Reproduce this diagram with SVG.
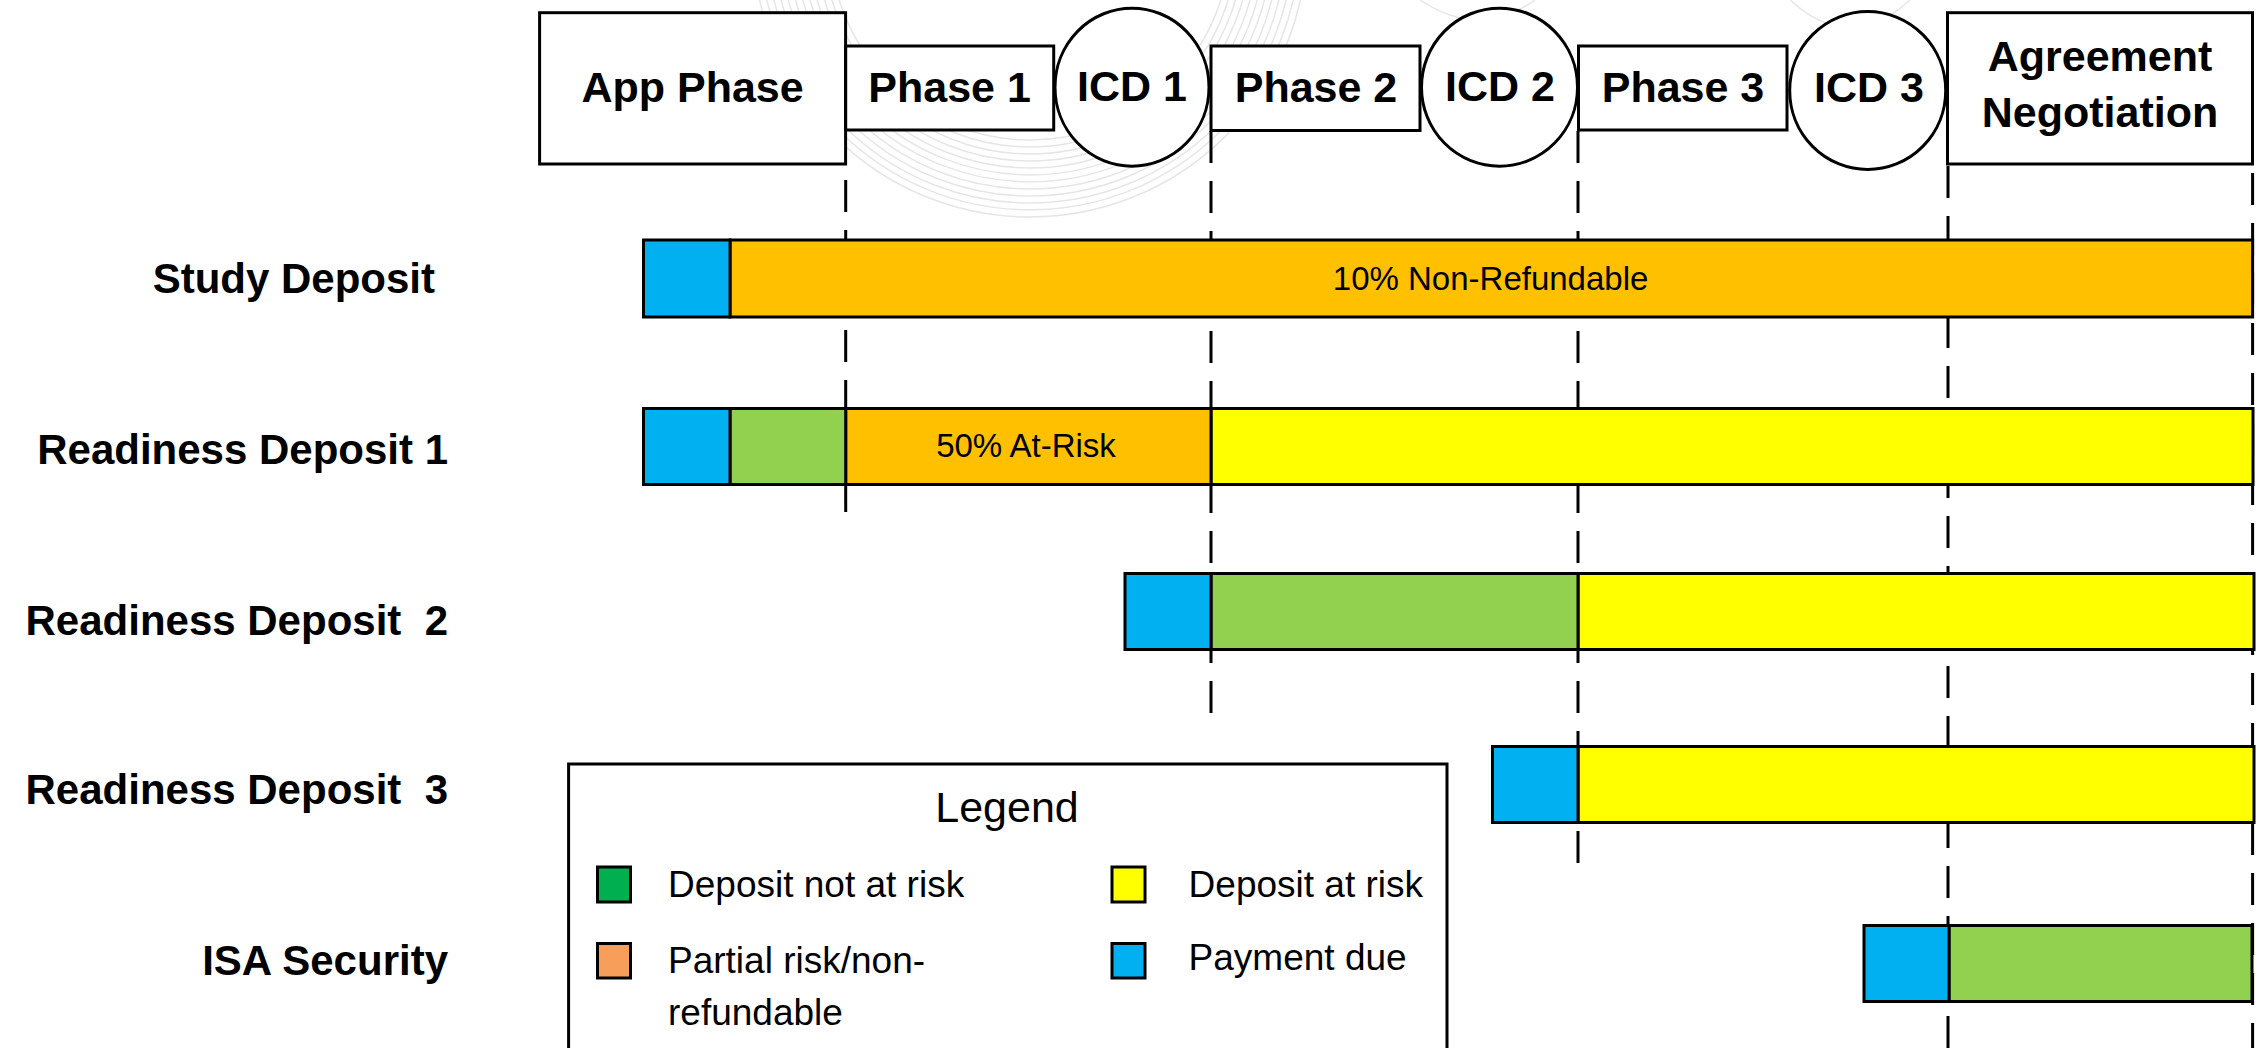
<svg xmlns="http://www.w3.org/2000/svg" width="2267" height="1048" viewBox="0 0 2267 1048">
<style>
.box{fill:#fff;stroke:#000;stroke-width:3}
.hdr{font-family:"Liberation Sans",Arial,sans-serif;font-weight:bold;font-size:43px;text-anchor:middle;fill:#000}
.lbl{font-family:"Liberation Sans",Arial,sans-serif;font-weight:bold;font-size:42px;text-anchor:end;fill:#000}
.bt{font-family:"Liberation Sans",Arial,sans-serif;font-size:33px;text-anchor:middle;fill:#000}
.lg{font-family:"Liberation Sans",Arial,sans-serif;font-size:37px;fill:#000}
.seg{stroke:#000;stroke-width:3}
.blue{fill:#00B0F0}.orange{fill:#FFC000}.green{fill:#92D050}.yellow{fill:#FFFF00}
.dash{fill:none;stroke:#000;stroke-width:3;stroke-dasharray:32 18}
.wm{fill:none;stroke:#e6e6e6;stroke-width:1.5}
</style>
<rect width="2267" height="1048" fill="#fff"/>
<g id="watermark">
<path class="wm" d="M830,-60 A200,200 0 0 0 1230,-60"/>
<path class="wm" d="M823,-60 A207,207 0 0 0 1237,-60"/>
<path class="wm" d="M816,-60 A214,214 0 0 0 1244,-60"/>
<path class="wm" d="M809,-60 A221,221 0 0 0 1251,-60"/>
<path class="wm" d="M802,-60 A228,228 0 0 0 1258,-60"/>
<path class="wm" d="M795,-60 A235,235 0 0 0 1265,-60"/>
<path class="wm" d="M788,-60 A242,242 0 0 0 1272,-60"/>
<path class="wm" d="M781,-60 A249,249 0 0 0 1279,-60"/>
<path class="wm" d="M774,-60 A256,256 0 0 0 1286,-60"/>
<path class="wm" d="M767,-60 A263,263 0 0 0 1293,-60"/>
<path class="wm" d="M760,-60 A270,270 0 0 0 1300,-60"/>
<path class="wm" d="M753,-60 A277,277 0 0 0 1307,-60"/>
<path class="wm" d="M1420,0 Q1480,40 1535,0"/>
<path class="wm" d="M1790,0 Q1850,55 1910,0"/>
</g>
<g id="connectors">
<line class="dash" x1="845.7" y1="180" x2="845.7" y2="517"/>
<line class="dash" x1="1211" y1="131" x2="1211" y2="725"/>
<line class="dash" x1="1578" y1="131" x2="1578" y2="876"/>
<line class="dash" x1="1948" y1="166" x2="1948" y2="1048"/>
<line class="dash" x1="2252.6" y1="173" x2="2252.6" y2="1048"/>
</g>
<g id="app-phase"><rect class="box" x="539.6" y="12.7" width="306" height="151.3"/><text class="hdr" x="692.6" y="102">App Phase</text></g>
<g id="phase-1"><rect class="box" x="845.7" y="46" width="208" height="84"/><text class="hdr" x="949.6" y="102">Phase 1</text></g>
<g id="icd-1"><ellipse class="box" cx="1132" cy="87.2" rx="77" ry="79"/><text class="hdr" x="1132" y="101">ICD 1</text></g>
<g id="phase-2"><rect class="box" x="1211" y="46" width="209" height="84.5"/><text class="hdr" x="1316" y="102">Phase 2</text></g>
<g id="icd-2"><ellipse class="box" cx="1499.5" cy="87.2" rx="78" ry="79"/><text class="hdr" x="1500" y="101">ICD 2</text></g>
<g id="phase-3"><rect class="box" x="1578.5" y="46" width="208.5" height="84"/><text class="hdr" x="1683" y="102">Phase 3</text></g>
<g id="icd-3"><ellipse class="box" cx="1867.7" cy="90.5" rx="78" ry="79"/><text class="hdr" x="1869" y="102">ICD 3</text></g>
<g id="agreement-negotiation"><rect class="box" x="1947.5" y="12.7" width="305" height="151.3"/><text class="hdr" x="2100" y="71">Agreement</text><text class="hdr" x="2100" y="127">Negotiation</text></g>
<g id="study-deposit">
<text class="lbl" x="435" y="293">Study Deposit</text>
<rect class="seg orange" x="730" y="240" width="1522.6" height="77"/>
<rect class="seg blue" x="643.5" y="240" width="86.5" height="77"/>
<text class="bt" x="1490.6" y="289.5">10% Non-Refundable</text>
</g>
<g id="readiness-deposit-1">
<text class="lbl" x="448" y="463.5">Readiness Deposit 1</text>
<rect class="seg yellow" x="1211" y="408.5" width="1042" height="76"/>
<rect class="seg orange" x="845.7" y="408.5" width="365.3" height="76"/>
<rect class="seg green" x="730" y="408.5" width="115.7" height="76"/>
<rect class="seg blue" x="643.5" y="408.5" width="86.5" height="76"/>
<text class="bt" x="1026" y="457">50% At-Risk</text>
</g>
<g id="readiness-deposit-2">
<text class="lbl" x="448" y="635" xml:space="preserve">Readiness Deposit  2</text>
<rect class="seg yellow" x="1578" y="573.5" width="676" height="76"/>
<rect class="seg green" x="1211" y="573.5" width="367" height="76"/>
<rect class="seg blue" x="1125" y="573.5" width="86" height="76"/>
</g>
<g id="readiness-deposit-3">
<text class="lbl" x="448" y="803.5" xml:space="preserve">Readiness Deposit  3</text>
<rect class="seg yellow" x="1578" y="746.5" width="676" height="76"/>
<rect class="seg blue" x="1492.5" y="746.5" width="85.5" height="76"/>
</g>
<g id="isa-security">
<text class="lbl" x="448" y="975">ISA Security</text>
<rect class="seg green" x="1949" y="925.5" width="303" height="76"/>
<rect class="seg blue" x="1864" y="925.5" width="85" height="76"/>
</g>
<g id="legend">
<rect class="box" x="568.6" y="764" width="878.4" height="300"/>
<text class="lg" x="1007" y="821.7" text-anchor="middle" style="font-size:43px">Legend</text>
<rect class="seg" x="597.5" y="867" width="33" height="35" fill="#00B050"/>
<text class="lg" x="668" y="896.7">Deposit not at risk</text>
<rect class="seg" x="1112" y="867" width="33" height="35" fill="#FFFF00"/>
<text class="lg" x="1188.6" y="896.7">Deposit at risk</text>
<rect class="seg" x="597.5" y="943.5" width="33" height="34.5" fill="#F79E5A"/>
<text class="lg" x="668" y="972.7">Partial risk/non-</text>
<text class="lg" x="668" y="1025">refundable</text>
<rect class="seg" x="1112" y="943.5" width="33" height="34.5" fill="#00B0F0"/>
<text class="lg" x="1188.6" y="970">Payment due</text>
</g>
</svg>
